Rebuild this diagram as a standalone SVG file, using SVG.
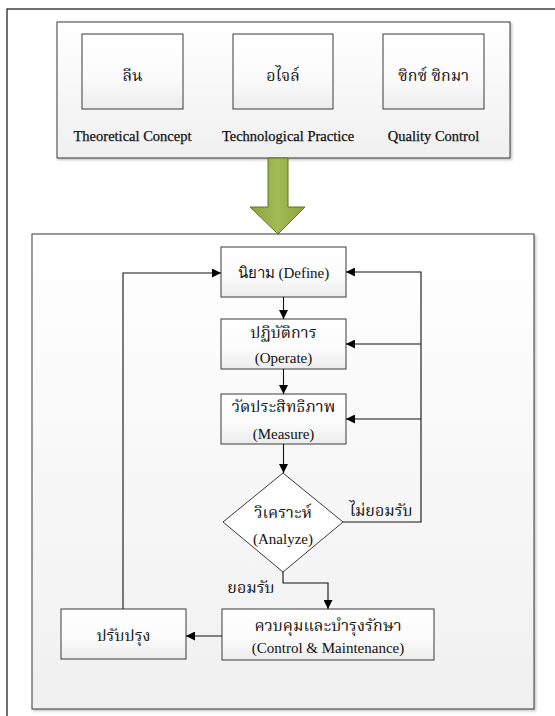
<svg xmlns="http://www.w3.org/2000/svg" width="555" height="716" viewBox="0 0 555 716">
<style>
.box{fill:url(#gbox);stroke:#3a3a3a;stroke-width:1}
.cont{fill:url(#gcont);stroke:#3a3a3a;stroke-width:1;filter:url(#sh)}
.en{font-family:"Liberation Serif","Times New Roman",serif;font-size:15px;fill:#111;text-anchor:middle}
.th{font-family:"Liberation Serif","Noto Serif Thai","Noto Sans Thai","Tlwg Typo",serif;font-size:16px;fill:#111;text-anchor:middle}
.lab{font-family:"Liberation Serif","Times New Roman",serif;font-size:14.5px;fill:#111;text-anchor:middle;stroke:#111;stroke-width:0.25}
.ln{fill:none;stroke:#111;stroke-width:1.1}
</style>
<defs>
<linearGradient id="gbox" x1="0" y1="0" x2="0" y2="1"><stop offset="0" stop-color="#ffffff"/><stop offset="0.6" stop-color="#fbfbfb"/><stop offset="1" stop-color="#ececec"/></linearGradient>
<linearGradient id="gcont" x1="0" y1="0" x2="0" y2="1"><stop offset="0" stop-color="#ffffff"/><stop offset="1" stop-color="#f0f0f0"/></linearGradient>
<linearGradient id="garrow" x1="0" y1="0" x2="1" y2="0"><stop offset="0" stop-color="#8aa43c"/><stop offset="0.5" stop-color="#a2bb55"/><stop offset="1" stop-color="#8aa43c"/></linearGradient>
<filter id="sh" x="-5%" y="-5%" width="110%" height="110%"><feDropShadow dx="1.5" dy="1.5" stdDeviation="1.2" flood-color="#000" flood-opacity="0.25"/></filter>
<marker id="ah" markerWidth="9" markerHeight="9" refX="9" refY="4.5" orient="auto" markerUnits="userSpaceOnUse"><path d="M0,0 L9,4.5 L0,9 z" fill="#000"/></marker>
</defs>
<rect x="0" y="0" width="555" height="716" fill="#ffffff"/>
<rect x="7" y="9" width="560" height="720" fill="none" stroke="#111" stroke-width="1.2"/>

<g id="top-container">
<rect class="cont" x="57" y="22" width="453" height="136"/>
</g>
<g id="node-lean">
<rect class="box" x="82" y="34" width="101" height="75"/>
<text class="th" x="132.5" y="81">ลีน</text>
<text class="lab" x="132.5" y="141">Theoretical Concept</text>
</g>
<g id="node-agile">
<rect class="box" x="233" y="34" width="100" height="75"/>
<text class="th" x="283" y="81">อไจล์</text>
<text class="lab" x="288" y="141">Technological Practice</text>
</g>
<g id="node-sixsigma">
<rect class="box" x="383" y="34" width="101" height="75"/>
<text class="th" x="433.5" y="81">ซิกซ์ ซิกมา</text>
<text class="lab" x="433.5" y="141">Quality Control</text>
</g>

<g id="big-arrow">
<path d="M268,158 L288,158 L288,207 L305,207 L278,234 L250,207 L268,207 Z" fill="url(#garrow)" stroke="#5f7224" stroke-width="1"/>
</g>

<g id="process-container">
<rect class="cont" x="32" y="234" width="502" height="475"/>
</g>

<g id="node-define">
<rect class="box" x="221" y="247" width="125" height="50"/>
<text class="en" x="283.5" y="278">นิยาม (Define)</text>
</g>
<g id="node-operate">
<rect class="box" x="221" y="319" width="125" height="50"/>
<text class="th" x="283.5" y="338">ปฏิบัติการ</text>
<text class="en" x="283.5" y="363">(Operate)</text>
</g>
<g id="node-measure">
<rect class="box" x="221" y="394" width="125" height="50"/>
<text class="th" x="283.5" y="412">วัดประสิทธิภาพ</text>
<text class="en" x="283.5" y="439">(Measure)</text>
</g>
<g id="node-analyze">
<path d="M283,473 L343,522 L283,572 L223,522 Z" fill="#ffffff" stroke="#3a3a3a" stroke-width="1"/>
<text class="th" x="283" y="518">วิเคราะห์</text>
<text class="en" x="283" y="544">(Analyze)</text>
</g>
<g id="node-control">
<rect class="box" x="222" y="609" width="212" height="51"/>
<text class="th" x="328" y="631">ควบคุมและบำรุงรักษา</text>
<text class="en" x="328" y="653">(Control &amp; Maintenance)</text>
</g>
<g id="node-improve">
<rect class="box" x="61" y="609" width="125" height="50"/>
<text class="th" x="123.5" y="641">ปรับปรุง</text>
</g>

<g id="connectors">
<path class="ln" d="M283.5,297 L283.5,319" marker-end="url(#ah)"/>
<path class="ln" d="M283.5,369 L283.5,394" marker-end="url(#ah)"/>
<path class="ln" d="M283.5,444 L283.5,473" marker-end="url(#ah)"/>
<path class="ln" d="M343,522 L421,522 L421,272 L346,272" marker-end="url(#ah)"/>
<path class="ln" d="M421,344 L346,344" marker-end="url(#ah)"/>
<path class="ln" d="M421,419 L346,419" marker-end="url(#ah)"/>
<path class="ln" d="M283,572 L283,583 L328,583 L328,609" marker-end="url(#ah)"/>
<path class="ln" d="M222,636 L186,636" marker-end="url(#ah)"/>
<path class="ln" d="M123,609 L123,273 L221,273" marker-end="url(#ah)"/>
<text class="th" x="381" y="516">ไม่ยอมรับ</text>
<text class="th" x="251" y="593">ยอมรับ</text>
</g>
</svg>
